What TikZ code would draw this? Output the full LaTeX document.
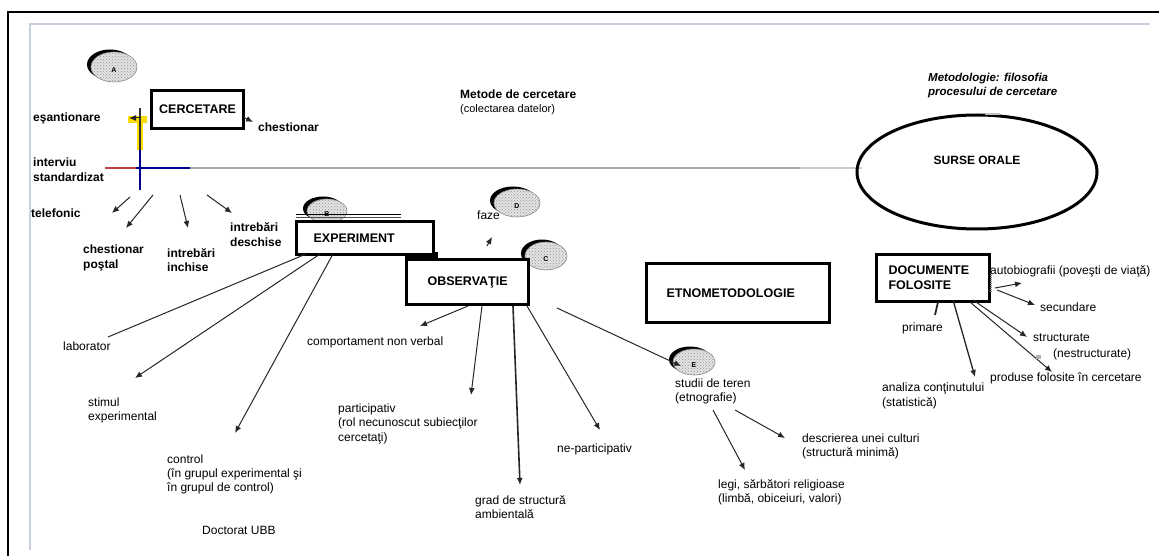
\documentclass[tikz,border=0pt]{standalone}
\usepackage{fontspec}
\setmainfont{Liberation Sans}
\usetikzlibrary{arrows.meta,patterns,shapes.geometric}
\newcommand{\tokdot}[5]{%
 \fill[black] (#1-4,#2-2.5) ellipse [x radius=#3, y radius=#4];
 \fill[gray!22] (#1,#2) ellipse [x radius=#3, y radius=#4];
 \fill[pattern=crosshatch dots, pattern color=gray!85] (#1,#2) ellipse [x radius=#3, y radius=#4];
 \draw[gray!90, line width=0.6pt] (#1,#2) ellipse [x radius=#3, y radius=#4];
 \node[font=\fontsize{7}{7}\selectfont\bfseries, inner sep=0pt] at (#1,#2+3) {#5};}
\tikzset{
 txt/.style={anchor=base west, inner sep=0pt, font=\fontsize{12}{14}\selectfont},
 btxt/.style={anchor=base west, inner sep=0pt, font=\fontsize{12}{14}\selectfont\bfseries},
 boxst/.style={draw, line width=3.2pt, fill=white, inner ysep=0pt, anchor=north west,
   font=\fontsize{12.5}{15}\selectfont\bfseries},
 arr/.style={line width=1pt, draw=black!85, -{Latex[length=7pt,width=6pt]}},
 ln/.style={line width=1pt, draw=black!85},
}
\begin{document}
\begin{tikzpicture}[x=1pt,y=-1pt]
\useasboundingbox (0,0) rectangle (1159,556);
% frames
\draw[line width=1.6pt] (8,556) -- (8,12) -- (1159,12);
\draw[line width=1.2pt, draw={rgb,255:red,200;green,208;blue,224}] (30,550) -- (30,24) -- (1150,24);

% main horizontal line and vertical axis
\draw[line width=1.6pt, gray!70] (140,168) -- (800,168);
\draw[line width=1.6pt, gray!40] (800,168) -- (862,168);
\draw[line width=1.4pt, red!50!gray] (105,168) -- (136,168);
\draw[line width=1.4pt, blue!60!black] (136,168) -- (190,168);
\fill[yellow!80!orange] (128,116) rectangle (147,123);
\fill[yellow!80!orange] (137,116) rectangle (143,150);
\draw[line width=1.8pt, black!80] (140,108) -- (140,150);
\draw[line width=1.8pt, blue!55!black] (140,150) -- (140,190);

% tokens
\tokdot{114}{67}{23}{15}{A}
\tokdot{327}{211}{20}{12}{B}
\tokdot{546}{256}{21}{14}{C}
\tokdot{517}{203}{23}{14}{D}
\tokdot{694}{362}{21}{13}{E}
\draw[line width=1.2pt] (296,214.5) -- (401,214.5);
\draw[line width=1.2pt, black!70] (296,217.5) -- (401,217.5);
\fill[black] (405,252) rectangle (438,262);

% boxes
\node[boxst, minimum width=92pt, minimum height=38pt] (cerc) at (150,89) {CERCETARE};
\node[boxst, minimum width=137pt, minimum height=33pt, inner xsep=17pt, text width=103pt, align=left] (exp) at (295,220) {EXPERIMENT};
\node[boxst, minimum width=122pt, minimum height=45pt] (obs) at (405,258) {OBSERVAŢIE};
\node[boxst, minimum width=183pt, minimum height=59pt, inner xsep=20pt, text width=143pt, align=left] (etno) at (645,262) {ETNOMETODOLOGIE};
\node[boxst, minimum width=113pt, minimum height=47pt, inner xsep=12pt, text width=89pt, align=left] (doc) at (875,253) {DOCUMENTE\\FOLOSITE};
\node[draw, ellipse, line width=3pt, minimum width=240pt, minimum height=114pt, inner sep=0pt] (surse) at (977,172) {};
\node[font=\fontsize{12}{14}\selectfont\bfseries, inner sep=0pt] (surseT) at (977,160) {SURSE ORALE};
\draw[line width=1.5pt, gray!50] (985,114) -- (1000,114);

% coordinates
\coordinate (pEs) at (129,118);  \coordinate (qEs) at (141,118);
\coordinate (pCh) at (243,117);  \coordinate (qCh) at (253,122);
\coordinate (b1s) at (130,197);  \coordinate (b1e) at (112,213);
\coordinate (b2s) at (153,195);  \coordinate (b2e) at (126,228);
\coordinate (b3s) at (180,195);  \coordinate (b3e) at (188,228);
\coordinate (b4s) at (207,195);  \coordinate (b4e) at (232,213);
\coordinate (e1s) at (306,254);  \coordinate (e1e) at (108,337);
\coordinate (e2s) at (320,254);  \coordinate (e2e) at (135,378);
\coordinate (e3s) at (333,254);  \coordinate (e3e) at (235,433);
\coordinate (o1s) at (468,306);  \coordinate (o1e) at (420,326);
\coordinate (o2s) at (482,306);  \coordinate (o2e) at (471,395);
\coordinate (o3s) at (513,306);  \coordinate (o3e) at (520,485);
\coordinate (o4s) at (527,306);  \coordinate (o4e) at (600,430);
\coordinate (o5s) at (557,308);  \coordinate (o5e) at (681,366);
\coordinate (fzs) at (487,246);  \coordinate (fze) at (492,237);
\coordinate (s1s) at (713,410);  \coordinate (s1e) at (745,470);
\coordinate (s2s) at (735,410);  \coordinate (s2e) at (785,438);
\coordinate (d1s) at (995,288);  \coordinate (d1e) at (1022,283);
\coordinate (d2s) at (997,290);  \coordinate (d2e) at (1035,305);
\coordinate (d3s) at (973,300);  \coordinate (d3e) at (1027,337);
\coordinate (d4s) at (970,302);  \coordinate (d4e) at (1052,372);
\coordinate (d5s) at (938,302);  \coordinate (d5e) at (935,315);
\coordinate (d6s) at (953,300);  \coordinate (d6e) at (975,377);

% connectors
\draw[arr] (qEs) -- (pEs);
\draw[arr] (pCh) -- (qCh);
\draw[arr] (b1s) -- (b1e);
\draw[arr] (b2s) -- (b2e);
\draw[arr] (b3s) -- (b3e);
\draw[arr] (b4s) -- (b4e);
\draw[ln] (e1s) -- (e1e);
\draw[arr] (e2s) -- (e2e);
\draw[arr] (e3s) -- (e3e);
\draw[arr] (o1s) -- (o1e);
\draw[arr] (o2s) -- (o2e);
\draw[arr, line width=1.6pt] (o3s) -- (o3e);
\draw[arr] (o4s) -- (o4e);
\draw[arr] (o5s) -- (o5e);
\draw[arr] (fzs) -- (fze);
\draw[arr] (s1s) -- (s1e);
\draw[arr] (s2s) -- (s2e);
\draw[arr] (d1s) -- (d1e);
\draw[arr] (d2s) -- (d2e);
\draw[arr] (d3s) -- (d3e);
\draw[arr] (d4s) -- (d4e);
\draw[ln, line width=1.8pt] (d5s) -- (d5e);
\draw[arr, line width=1.3pt] (d6s) -- (d6e);
\draw[gray, line width=2pt, dash pattern=on 1pt off 1pt] (991,273) -- (991,293);
\fill[gray!60] (1036,355) rectangle (1041,359);

% labels
\node[btxt] (tEs) at (33,122) {eşantionare};
\node[btxt] (tCh) at (258,132) {chestionar};
\node[btxt] (tIv1) at (33,167) {interviu};
\node[btxt] (tIv2) at (33,182) {standardizat};
\node[btxt] (tTel) at (31,218) {telefonic};
\node[btxt] (tCp1) at (83,254) {chestionar};
\node[btxt] (tCp2) at (83,268) {poştal};
\node[btxt] (tIi1) at (167,257) {intrebări};
\node[btxt] (tIi2) at (167,271) {inchise};
\node[btxt] (tId1) at (230,232) {intrebări};
\node[btxt] (tId2) at (230,246) {deschise};
\node[btxt] (tMet1) at (460,99) {Metode de cercetare};
\node[txt, font=\fontsize{11}{13}\selectfont] (tMet2) at (460,113) {(colectarea datelor)};
\node[btxt, font=\fontsize{11.5}{14}\selectfont\bfseries\itshape] (tMg1) at (928,82) {Metodologie: filosofia};
\node[btxt, font=\fontsize{11.5}{14}\selectfont\bfseries\itshape] (tMg2) at (928,96) {procesului de cercetare};
\node[txt] (tFaze) at (477,220) {faze};
\node[txt] (tLab) at (63,350) {laborator};
\node[txt] (tSt1) at (88,406) {stimul};
\node[txt] (tSt2) at (88,420) {experimental};
\node[txt] (tCo1) at (167,463) {control};
\node[txt] (tCo2) at (167,477) {(în grupul experimental şi};
\node[txt] (tCo3) at (167,491) {în grupul de control)};
\node[txt] (tDoc) at (202,534) {Doctorat UBB};
\node[txt] (tCnv) at (307,345) {comportament non verbal};
\node[txt] (tPa1) at (338,412) {participativ};
\node[txt] (tPa2) at (338,426) {(rol necunoscut subiecţilor};
\node[txt] (tPa3) at (338,441) {cercetaţi)};
\node[txt] (tGr1) at (475,504) {grad de structură};
\node[txt] (tGr2) at (475,518) {ambientală};
\node[txt] (tNp) at (557,452) {ne-participativ};
\node[txt] (tSd1) at (675,387) {studii de teren};
\node[txt] (tSd2) at (675,401) {(etnografie)};
\node[txt] (tDe1) at (802,442) {descrierea unei culturi};
\node[txt] (tDe2) at (802,456) {(structură minimă)};
\node[txt] (tLe1) at (718,488) {legi, sărbători religioase};
\node[txt] (tLe2) at (718,502) {(limbă, obiceiuri, valori)};
\node[txt] (tAut) at (990,274) {autobiografii (poveşti de viaţă)};
\node[txt] (tSec) at (1040,311) {secundare};
\node[txt] (tStr1) at (1033,341) {structurate};
\node[txt] (tStr2) at (1053,357) {(nestructurate)};
\node[txt] (tPro) at (990,381) {produse folosite în cercetare};
\node[txt] (tPri) at (902,331) {primare};
\node[txt] (tAn1) at (882,391) {analiza conţinutului};
\node[txt] (tAn2) at (882,406) {(statistică)};
\end{tikzpicture}
\end{document}
